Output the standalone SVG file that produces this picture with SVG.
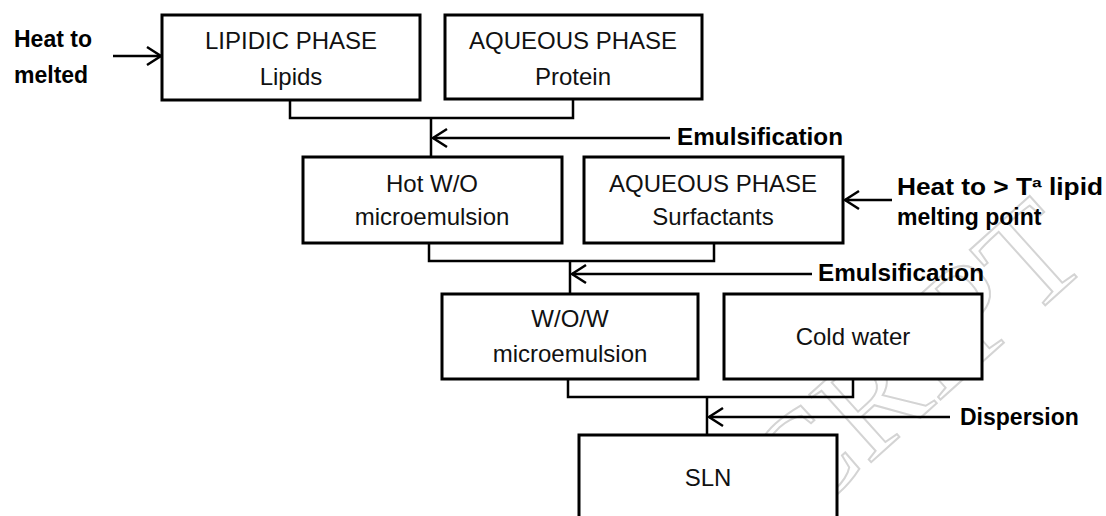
<svg xmlns="http://www.w3.org/2000/svg" width="1106" height="516" viewBox="0 0 1106 516">
<defs>
<marker id="chev" markerUnits="userSpaceOnUse" markerWidth="20" markerHeight="24" viewBox="-16 -12 20 24" refX="0" refY="0" orient="auto">
<path d="M-14,-9 L0,0 L-14,9" fill="none" stroke="#000" stroke-width="2.5"/>
</marker>
<style>
.box{fill:#fff;stroke:#000;stroke-width:3}
.t{font-family:"Liberation Sans",Arial,sans-serif;font-size:24px;fill:#111;text-anchor:middle}
.b{font-family:"Liberation Sans",Arial,sans-serif;font-size:23px;font-weight:bold;fill:#000}
.ln{fill:none;stroke:#000;stroke-width:2.5}
.ar{fill:none;stroke:#000;stroke-width:2.5;marker-end:url(#chev)}
.wm{font-family:"Liberation Serif","Times New Roman",serif;font-size:140px;fill:none;stroke:#d4d4d4;stroke-width:2}
</style>
</defs>
<rect width="1106" height="516" fill="#fff"/>
<text class="wm" transform="translate(798,528) rotate(-42)">CRIPT</text>
<g id="connectors">
<path class="ln" d="M290,100 V118 H573 V99 M431,118 V157"/>
<path class="ln" d="M429,243 V261 H714 V243 M570,261 V294"/>
<path class="ln" d="M568,379 V397 H853 V379 M707,397 V435"/>
<path class="ar" d="M113,56 H161"/>
<path class="ar" d="M670,138 H433"/>
<path class="ar" d="M892,200 H845"/>
<path class="ar" d="M812,274 H572"/>
<path class="ar" d="M950,417 H709"/>
</g>
<g id="lipidic">
<rect class="box" x="162" y="15" width="258" height="85"/>
<text class="t" x="291" y="49">LIPIDIC PHASE</text>
<text class="t" x="291" y="85">Lipids</text>
</g>
<g id="aqueous-protein">
<rect class="box" x="445" y="15" width="257" height="84"/>
<text class="t" x="573" y="49">AQUEOUS PHASE</text>
<text class="t" x="573" y="85">Protein</text>
</g>
<g id="hot-wo">
<rect class="box" x="303" y="157" width="259" height="86"/>
<text class="t" x="432" y="192">Hot W/O</text>
<text class="t" x="432" y="225">microemulsion</text>
</g>
<g id="aqueous-surf">
<rect class="box" x="584" y="157" width="259" height="86"/>
<text class="t" x="713" y="192">AQUEOUS PHASE</text>
<text class="t" x="713" y="225">Surfactants</text>
</g>
<g id="wow">
<rect class="box" x="442" y="294" width="256" height="85"/>
<text class="t" x="570" y="327">W/O/W</text>
<text class="t" x="570" y="362">microemulsion</text>
</g>
<g id="cold-water">
<rect class="box" x="724" y="294" width="258" height="85"/>
<text class="t" x="853" y="345">Cold water</text>
</g>
<g id="sln">
<path class="box" d="M579,530 V435 H837 V530"/>
<text class="t" x="708" y="486">SLN</text>
</g>
<g id="labels">
<text class="b" x="14" y="47">Heat to</text>
<text class="b" x="14" y="83">melted</text>
<text class="b" x="677" y="145" textLength="166" lengthAdjust="spacingAndGlyphs">Emulsification</text>
<text class="b" x="897" y="195" textLength="206" lengthAdjust="spacingAndGlyphs">Heat to &gt; Tª lipid</text>
<text class="b" x="897" y="225">melting point</text>
<text class="b" x="818" y="281" textLength="166" lengthAdjust="spacingAndGlyphs">Emulsification</text>
<text class="b" x="960" y="425">Dispersion</text>
</g>
</svg>
